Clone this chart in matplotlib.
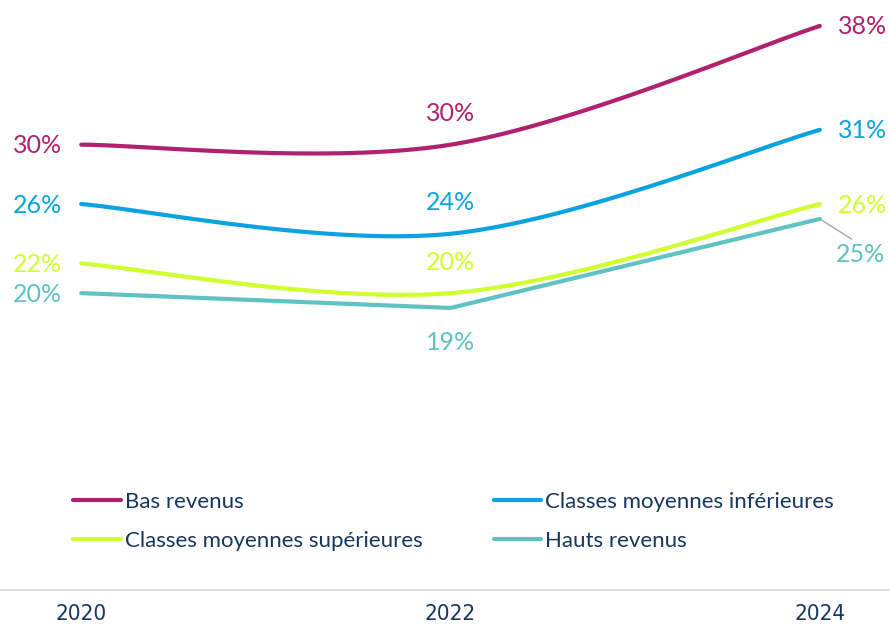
import numpy as np
import matplotlib
matplotlib.use("Agg")
import matplotlib.pyplot as plt
from matplotlib.lines import Line2D

years = [2020, 2022, 2024]
bas_revenus = [30, 30, 38]
moy_inf = [26, 24, 31]
moy_sup = [22, 20, 26]
hauts_revenus = [20, 19, 25]

series_names = ["Bas revenus", "Classes moyennes inférieures",
                "Classes moyennes supérieures", "Hauts revenus"]
colors = ["#B0216F", "#0AA3E0", "#CFFF2E", "#5FC2C3"]
navy = "#17375E"

plt.rcParams["font.family"] = ["Lato", "DejaVu Sans"]


def smooth(xs, ys, n=60):
    """Catmull-Rom style Bezier smoothing (tension 1/6), as in office charts."""
    pts = np.column_stack([np.asarray(xs, float), np.asarray(ys, float)])
    m = len(pts)
    out = []
    for i in range(m - 1):
        p0 = pts[max(i - 1, 0)]
        p1 = pts[i]
        p2 = pts[i + 1]
        p3 = pts[min(i + 2, m - 1)]
        c1 = p1 + (p2 - p0) / 6.0
        c2 = p2 - (p3 - p1) / 6.0
        t = np.linspace(0, 1, n)[:, None]
        seg = ((1 - t) ** 3) * p1 + 3 * ((1 - t) ** 2) * t * c1 \
            + 3 * (1 - t) * t ** 2 * c2 + t ** 3 * p2
        out.append(seg if i == 0 else seg[1:])
    out = np.vstack(out)
    return out[:, 0], out[:, 1]


fig = plt.figure(figsize=(8.9, 6.25), dpi=100)
ax = fig.add_axes([0, 0.056, 1, 0.950])
ax.set_xlim(2019.56, 2024.38)
ax.set_ylim(0, 40)

data = [bas_revenus, moy_inf, moy_sup, hauts_revenus]
smoothed = [True, True, True, False]
handles = []
for name, vals, col, sm in zip(series_names, data, colors, smoothed):
    if sm:
        sx, sy = smooth(years, vals)
    else:
        sx, sy = years, vals
    ax.plot(sx, sy, color=col, lw=3, solid_capstyle="round",
            solid_joinstyle="miter", clip_on=False)
    handles.append(Line2D([], [], color=col, lw=3, solid_capstyle="round"))

lab_fs = 18
for vals, col in zip(data, colors):
    # left end
    ax.annotate(f"{vals[0]}%", (years[0], vals[0]), xytext=(-19, -1),
                textcoords="offset pixels", ha="right", va="center",
                color=col, fontsize=lab_fs)
    # middle
    below = vals is hauts_revenus
    ax.annotate(f"{vals[1]}%", (years[1], vals[1]),
                xytext=(0, -35 if below else 31), textcoords="offset pixels",
                ha="center", va="center", color=col, fontsize=lab_fs)
    # right end
    if vals is hauts_revenus:
        ax.annotate(f"{vals[2]}%", (years[2], vals[2]), xytext=(41, -36),
                    textcoords="offset pixels", ha="center", va="center",
                    color=col, fontsize=lab_fs,
                    arrowprops=dict(arrowstyle="-", color="#A6A6A6", lw=1,
                                    shrinkA=2, shrinkB=0, relpos=(0.45, 1.0)))
    else:
        ax.annotate(f"{vals[2]}%", (years[2], vals[2]), xytext=(18, -1),
                    textcoords="offset pixels", ha="left", va="center",
                    color=col, fontsize=lab_fs)

# axes styling
for s in ["top", "left", "right"]:
    ax.spines[s].set_visible(False)
ax.spines["bottom"].set_color("#D9D9D9")
ax.spines["bottom"].set_linewidth(1.2)
ax.set_yticks([])
ax.set_xticks(years)
ax.set_xticklabels([str(y) for y in years])
ax.tick_params(axis="x", length=0, pad=10, colors=navy)
for t in ax.get_xticklabels():
    t.set_fontfamily(["DejaVu Sans"])
    t.set_fontstretch("condensed")
    t.set_fontsize(16)
    t.set_color(navy)

order = [0, 2, 1, 3]
leg = ax.legend([handles[i] for i in order], [series_names[i] for i in order],
                ncol=2, loc="upper left", bbox_to_anchor=(0.072, 0.18),
                frameon=False, fontsize=16, handlelength=2.15,
                handletextpad=0.18, labelspacing=0.85, columnspacing=3.2,
                borderaxespad=0)
for t in leg.get_texts():
    t.set_color(navy)

fig.savefig("out.png", dpi=100)
